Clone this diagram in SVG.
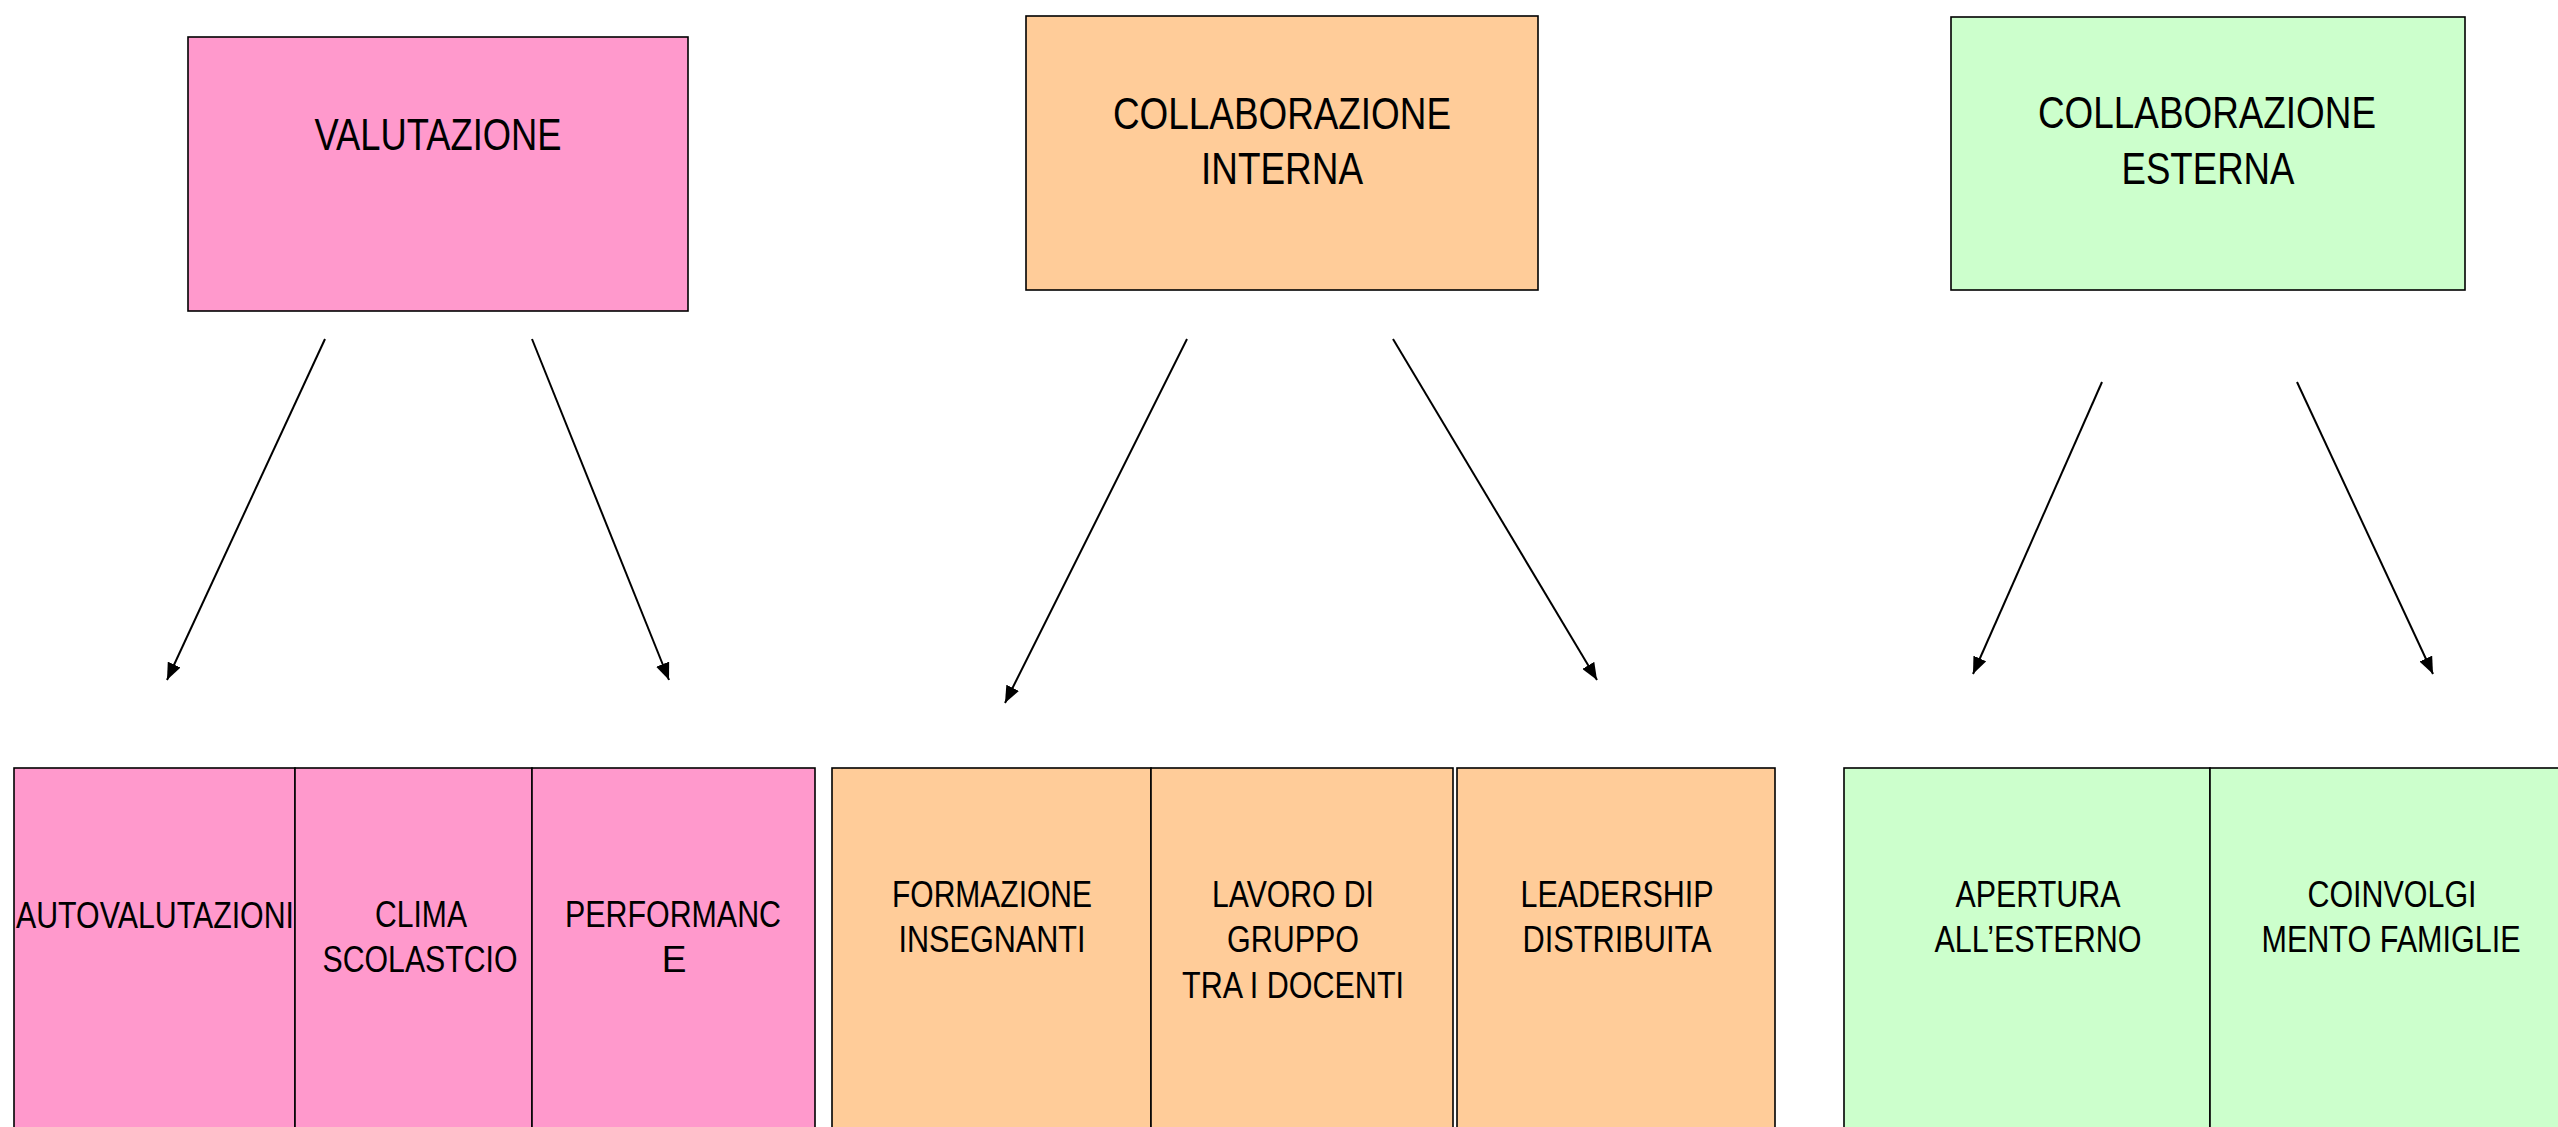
<svg xmlns="http://www.w3.org/2000/svg" width="2558" height="1127" viewBox="0 0 2558 1127">
<defs>
<style>
.box{stroke:#000;stroke-width:1.6}
.pink{fill:#FF99CC}
.orange{fill:#FFCC99}
.green{fill:#CCFFCC}
text{font-family:"Liberation Sans Narrow","Liberation Sans",Arial,sans-serif;fill:#000;text-anchor:middle}
.t{font-size:45px}
.s{font-size:37px}
.conn line{stroke:#000;stroke-width:2;marker-end:url(#arr)}
</style>
<marker id="arr" viewBox="0 0 17 14" refX="17" refY="7" markerWidth="17" markerHeight="14" markerUnits="userSpaceOnUse" orient="auto">
<path d="M0,0 L17,7 L0,14 z" fill="#000"/>
</marker>
</defs>
<rect width="2558" height="1127" fill="#fff"/>

<g id="valutazione">
<rect class="box pink" x="188" y="37" width="500" height="274"/>
<text class="t" x="438" y="150" textLength="247" lengthAdjust="spacingAndGlyphs">VALUTAZIONE</text>
</g>
<g id="collab-interna">
<rect class="box orange" x="1026" y="16" width="512" height="274"/>
<text class="t" x="1282" y="129" textLength="338" lengthAdjust="spacingAndGlyphs">COLLABORAZIONE</text>
<text class="t" x="1282" y="184" textLength="162" lengthAdjust="spacingAndGlyphs">INTERNA</text>
</g>
<g id="collab-esterna">
<rect class="box green" x="1951" y="17" width="514" height="273"/>
<text class="t" x="2207" y="128" textLength="338" lengthAdjust="spacingAndGlyphs">COLLABORAZIONE</text>
<text class="t" x="2208" y="184" textLength="173" lengthAdjust="spacingAndGlyphs">ESTERNA</text>
</g>

<g id="autovalutazione">
<rect class="box pink" x="14" y="768" width="281" height="380"/>
<text class="s" x="155" y="928" textLength="278" lengthAdjust="spacingAndGlyphs">AUTOVALUTAZIONI</text>
</g>
<g id="clima">
<rect class="box pink" x="295" y="768" width="237" height="380"/>
<text class="s" x="421" y="927" textLength="92" lengthAdjust="spacingAndGlyphs">CLIMA</text>
<text class="s" x="420" y="972" textLength="195" lengthAdjust="spacingAndGlyphs">SCOLASTCIO</text>
</g>
<g id="performance">
<rect class="box pink" x="532" y="768" width="283" height="380"/>
<text class="s" x="673" y="927" textLength="216" lengthAdjust="spacingAndGlyphs">PERFORMANC</text>
<text class="s" x="674" y="972">E</text>
</g>

<g id="formazione">
<rect class="box orange" x="832" y="768" width="319" height="380"/>
<text class="s" x="992" y="907" textLength="200" lengthAdjust="spacingAndGlyphs">FORMAZIONE</text>
<text class="s" x="992" y="952" textLength="187" lengthAdjust="spacingAndGlyphs">INSEGNANTI</text>
</g>
<g id="lavoro">
<rect class="box orange" x="1151" y="768" width="302" height="380"/>
<text class="s" x="1293" y="907" textLength="162" lengthAdjust="spacingAndGlyphs">LAVORO DI</text>
<text class="s" x="1293" y="952" textLength="132" lengthAdjust="spacingAndGlyphs">GRUPPO</text>
<text class="s" x="1293" y="998" textLength="222" lengthAdjust="spacingAndGlyphs">TRA I DOCENTI</text>
</g>
<g id="leadership">
<rect class="box orange" x="1457" y="768" width="318" height="380"/>
<text class="s" x="1617" y="907" textLength="193" lengthAdjust="spacingAndGlyphs">LEADERSHIP</text>
<text class="s" x="1617" y="952" textLength="189" lengthAdjust="spacingAndGlyphs">DISTRIBUITA</text>
</g>

<g id="apertura">
<rect class="box green" x="1844" y="768" width="366" height="380"/>
<text class="s" x="2038" y="907" textLength="165" lengthAdjust="spacingAndGlyphs">APERTURA</text>
<text class="s" x="2038" y="952" textLength="207" lengthAdjust="spacingAndGlyphs">ALL’ESTERNO</text>
</g>
<g id="famiglie">
<rect class="box green" x="2210" y="768" width="362" height="380"/>
<text class="s" x="2392" y="907" textLength="169" lengthAdjust="spacingAndGlyphs">COINVOLGI</text>
<text class="s" x="2391" y="952" textLength="259" lengthAdjust="spacingAndGlyphs">MENTO FAMIGLIE</text>
</g>

<g id="connectors" class="conn">
<line x1="325" y1="339" x2="167" y2="680"/>
<line x1="532" y1="339" x2="669" y2="680"/>
<line x1="1187" y1="339" x2="1005" y2="703"/>
<line x1="1393" y1="339" x2="1597" y2="680"/>
<line x1="2102" y1="382" x2="1973" y2="674"/>
<line x1="2297" y1="382" x2="2433" y2="674"/>
</g>
</svg>
